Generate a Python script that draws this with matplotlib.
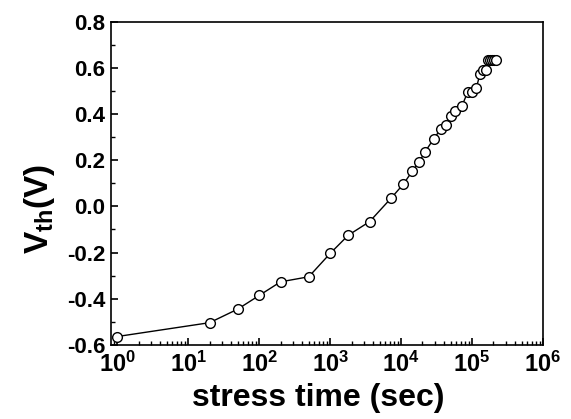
import matplotlib
matplotlib.use('Agg')
import matplotlib.pyplot as plt
from matplotlib.ticker import LogLocator, MultipleLocator, FixedLocator, NullFormatter

plt.rcParams['font.family'] = 'Liberation Sans'
plt.rcParams['font.weight'] = 'bold'
plt.rcParams['mathtext.fontset'] = 'custom'
plt.rcParams['mathtext.rm'] = 'Liberation Sans:bold'
plt.rcParams['mathtext.bf'] = 'Liberation Sans:bold'
plt.rcParams['mathtext.it'] = 'Liberation Sans:bold'

# stress time (sec) and threshold voltage (V)
stress_time = [1, 20, 50, 100, 200, 500, 1000, 1800, 3600, 7200,
               10800, 14400, 18000, 21600, 29000, 36000, 43200, 50400, 57600, 72000,
               86400, 100000, 115000, 129600, 144000, 158000, 165600, 177000, 189000, 201600,
               219600]
vth = [-0.564, -0.504, -0.445, -0.386, -0.327, -0.305, -0.204, -0.125, -0.066, 0.035,
       0.097, 0.153, 0.193, 0.235, 0.294, 0.334, 0.354, 0.393, 0.415, 0.435,
       0.494, 0.494, 0.514, 0.575, 0.593, 0.593, 0.634, 0.634, 0.634, 0.634,
       0.634]

x_ticks = [1, 10, 100, 1000, 10000, 100000, 1000000]
x_ticklabels = [r'$\mathbf{10^{%d}}$' % i for i in range(7)]
y_ticks = [-0.6, -0.4, -0.2, 0.0, 0.2, 0.4, 0.6, 0.8]

fig = plt.figure(figsize=(5.71, 4.19), dpi=100)
ax = fig.add_axes([0.194, 0.177, 0.757, 0.771])

ax.plot(stress_time, vth, '-o', color='black', lw=1.0,
        marker='o', markersize=7, markerfacecolor='white', markeredgecolor='black',
        markeredgewidth=1.0)

ax.set_xscale('log')
ax.set_xlim(0.81, 1e6)
ax.set_ylim(-0.6, 0.8)

ax.xaxis.set_major_locator(FixedLocator(x_ticks))
ax.set_xticklabels(x_ticklabels)
ax.xaxis.set_minor_locator(LogLocator(base=10, subs=range(2, 10), numticks=20))
ax.xaxis.set_minor_formatter(NullFormatter())
ax.set_yticks(y_ticks)
ax.set_yticklabels(['%.1f' % v for v in y_ticks])
ax.yaxis.set_minor_locator(MultipleLocator(0.1))

ax.tick_params(which='both', direction='in', top=False, right=False)
ax.tick_params(which='major', length=5, width=1.2)
ax.tick_params(which='minor', length=3, width=1.0)
ax.tick_params(axis='y', labelsize=16, pad=4)
ax.tick_params(axis='x', labelsize=17, pad=5)

for s in ax.spines.values():
    s.set_linewidth(1.2)

ax.set_xlabel('stress time (sec)', fontsize=23, fontweight='bold', labelpad=4)
ax.xaxis.label.set_x(0.48)
ax.set_ylabel(r'$\mathbf{V_{th}(V)}$', fontsize=24)
ax.yaxis.set_label_coords(-0.125, 0.42)

fig.savefig('out.png', dpi=100)
